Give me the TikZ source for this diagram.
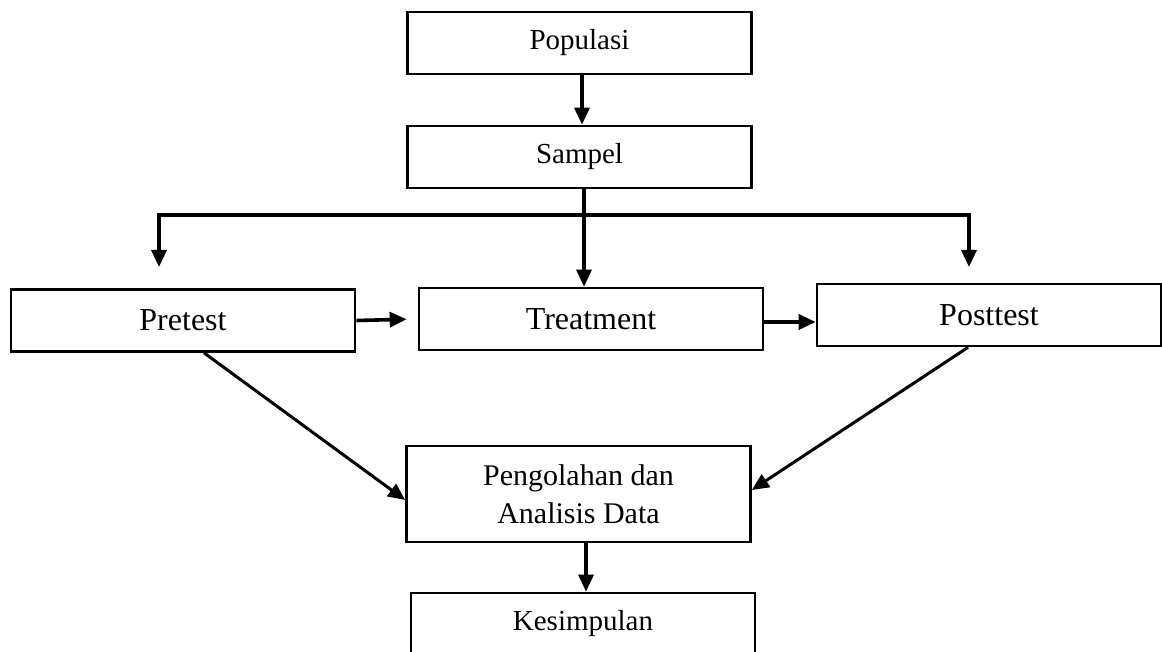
\documentclass[tikz,border=0pt]{standalone}
\usepackage{fontspec}
\setmainfont{Liberation Serif}
\usepackage{tikz}
\usetikzlibrary{arrows.meta}

\begin{document}
\begin{tikzpicture}[
  x=1pt, y=-1pt,
  box/.style={rectangle,draw,line width=2.7pt,minimum width=344pt,minimum height=62pt,inner sep=0pt},
  big/.style={font=\fontsize{32}{38}\selectfont},
  small/.style={font=\fontsize{29}{35}\selectfont},
  arr/.style={line width=3.3pt,-{Triangle[length=17pt,width=15pt]}}
]
  \useasboundingbox (0,0) rectangle (1162,652);

  \node[box,small] (populasi) at (579.5,43)  {Populasi};
  \node[box,small] (sampel)   at (579.5,157) {Sampel};
  \node[box,big] (pretest)    at (183,320.5) {Pretest};
  \node[box,big] (treatment)  at (591,319)   {Treatment};
  \node[box,big] (posttest)   at (989,315)   {Posttest};
  \node[box,font=\fontsize{30}{38}\selectfont,align=center,minimum height=96pt]
    (olah) at (578.5,494) {Pengolahan dan\\Analisis Data};
  \node[box,small] (kesimpulan) at (583,624) {Kesimpulan};

  % percabangan dari sampel
  \coordinate (split) at (584,215);
  \coordinate (pre-in) at (159,267);
  \coordinate (post-in) at (969,267);

  \draw[arr] ([xshift=2.5pt]populasi.south) -- ([xshift=2.5pt]sampel.north);
  \draw[line width=3.3pt] (sampel.south -| split) -- (split);
  \draw[arr] (split) -- (treatment.north -| split);
  \draw[arr] (split) -| (pre-in);
  \draw[arr] (split) -| (post-in);

  \draw[arr,line width=3.6pt,shorten >=11pt] (pretest.east) -- (treatment.west);
  \draw[arr,line width=3.6pt] ([yshift=-3pt]treatment.east) -- ([yshift=-3pt]treatment.east -| posttest.west);

  \draw[arr,line width=3pt] ([xshift=21pt]pretest.south) -- ([yshift=-6pt]olah.west);
  \draw[arr,line width=3pt] ([xshift=-21pt]posttest.south) -- ([yshift=4pt]olah.east);
  \draw[arr] ([xshift=7.5pt]olah.south) -- ([xshift=3pt]kesimpulan.north);
\end{tikzpicture}
\end{document}
